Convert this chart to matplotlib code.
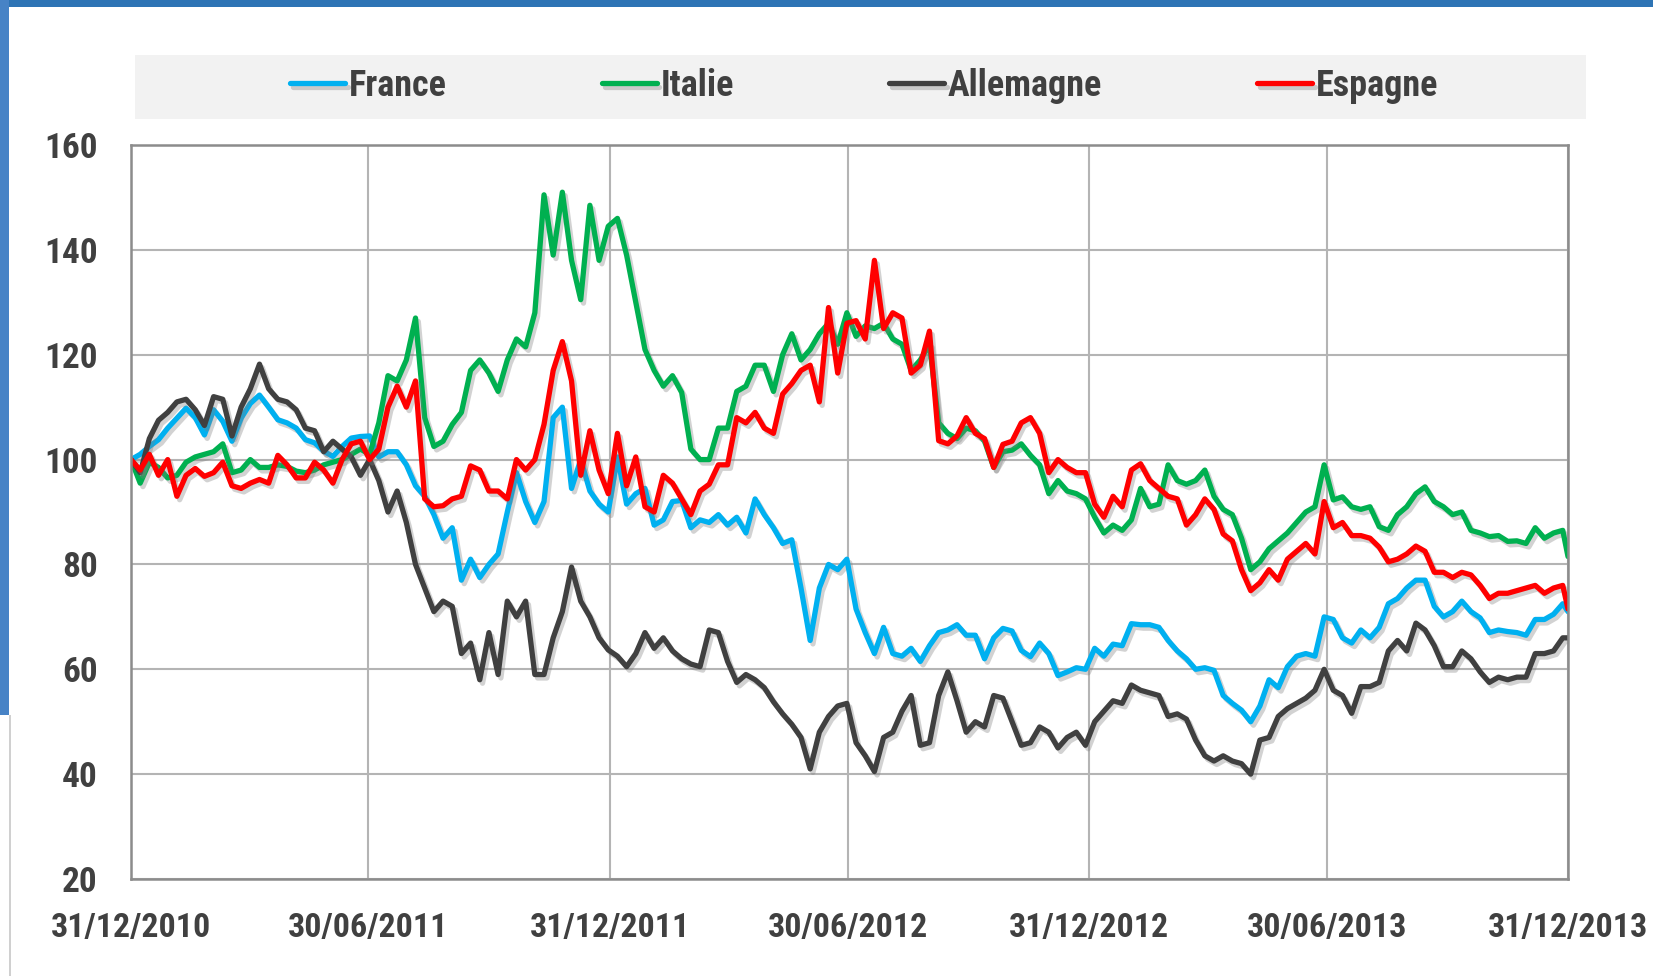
import pandas as pd
import numpy as np
import matplotlib.pyplot as plt
import matplotlib.dates as mdates
import matplotlib.patheffects as pe
from matplotlib import font_manager as fm
from matplotlib.patches import Rectangle

# the original uses a narrow bold face; take one if installed, else plain Liberation Sans
prefer = ["Liberation Sans Narrow", "Arial Narrow", "Roboto Condensed", "Open Sans Condensed"]
narrow = [f for f in fm.fontManager.ttflist
          if (f.stretch in ("condensed", "semi-condensed", "extra-condensed")
              or "Narrow" in f.name or "Condensed" in f.name) and f.weight in ("bold", 700)]
narrow.sort(key=lambda f: prefer.index(f.name) if f.name in prefer else len(prefer))
if narrow:
    plt.rcParams["font.family"] = [narrow[0].name, "DejaVu Sans"]
    plt.rcParams["font.stretch"] = narrow[0].stretch
    if narrow[0].name in prefer[:2]:
        xt_size, yt_size, leg_size, hl, cs = 26, 26, 24, 1.65, 4.6
    elif narrow[0].name in prefer:
        xt_size, yt_size, leg_size, hl, cs = 24.5, 25.5, 26, 1.52, 4.3
    else:
        xt_size, yt_size, leg_size, hl, cs = 21.5, 23, 21.5, 1.85, 5.1
else:
    plt.rcParams["font.family"] = ["Liberation Sans", "DejaVu Sans"]
    xt_size, yt_size, leg_size, hl, cs = 22, 22, 21, 1.85, 5.1

# weekly readings, 31/12/2010 -> 31/12/2013 (last point = 31/12/2013)
dates = list(pd.date_range("2010-12-31", periods=157, freq="7D")) + [pd.Timestamp("2013-12-31")]

france = [100, 101, 102.5, 103.8, 106, 107.9, 109.8, 108, 104.7, 109.5, 107.3, 103.5, 107.9, 110.7, 112.3, 110,
          107.6, 107, 106, 103.8, 103.2, 101.6, 100.6, 102.5, 104.1, 104.4,
          104.5, 100.5, 101.5, 101.5, 99, 95, 93, 89.5, 85, 87, 77, 81, 77.5, 80, 82, 90,
          97.5, 92, 88, 92, 108, 110, 94.5, 100, 94, 91.5,
          90, 100.5, 91.5, 93.5, 94.5, 87.5, 88.5, 92, 92.2, 87, 88.5, 88, 89.5, 87.5, 89, 86,
          92.5, 89.5, 87, 84, 84.7, 75.5, 65.5, 75.5, 80, 79,
          81, 71.5, 67, 63, 68, 63, 62.5, 64, 61.5, 64.5, 67, 67.5, 68.5, 66.5, 66.5, 62,
          66, 67.8, 67.3, 63.6, 62.4, 65, 63, 58.8, 59.5, 60.3, 60,
          64, 62.5, 64.8, 64.5, 68.7, 68.5, 68.5, 68, 65.5, 63.5, 62, 60, 60.3, 59.8, 55, 53.5,
          52.2, 50, 53, 58, 56.5, 60.5, 62.5, 63, 62.5, 70,
          69.5, 66, 65, 67.5, 66, 68, 72.5, 73.5, 75.5, 77, 77, 72, 70, 71, 73, 71,
          69.8, 67, 67.5, 67.2, 67, 66.5, 69.5, 69.5, 70.5, 72.5, 71]

italie = [100, 95.5, 99.5, 98.5, 96.5, 97, 99.5, 100.5, 101, 101.5, 103, 97.5, 98, 100, 98.5, 98.5,
          99, 98.7, 97.8, 97.5, 98, 99, 99.5, 100, 101, 102,
          101, 107, 116, 115, 119, 127, 108, 102.5, 103.5, 106.7, 109, 117, 119, 116.5, 113, 119,
          123, 121.5, 128, 150.5, 139, 151, 138, 130.5, 148.5, 138,
          144.5, 146, 139, 130, 121, 117, 114, 116, 112.8, 102, 100, 100, 106, 106, 113, 114,
          118, 118, 113, 120, 124, 119, 121, 124, 126, 122,
          128, 123.5, 125.5, 125, 126, 123, 122, 117, 119, 122, 107, 105, 104, 106, 105.5, 103.5,
          98.5, 101.5, 101.8, 103, 100.8, 99, 93.5, 96, 94, 93.5, 92.5,
          89, 86, 87.5, 86.5, 88.5, 94.5, 91, 91.5, 99, 96, 95.3, 96, 98, 93, 90.5, 89.5,
          85, 79, 80.5, 83, 84.5, 86, 88, 90, 91, 99,
          92.3, 92.9, 91, 90.5, 91, 87.2, 86.5, 89.5, 91, 93.5, 94.8, 92, 91, 89.5, 90, 86.5,
          86, 85.3, 85.5, 84.4, 84.5, 84, 87, 85, 86, 86.5, 81.5]

allemagne = [100, 97.5, 104, 107.5, 109, 111, 111.5, 109.5, 106.5, 112, 111.5, 104.5, 110, 113.5, 118.2, 113.5,
             111.5, 111, 109.5, 106, 105.5, 101.5, 103.5, 102, 100.5, 97,
             100, 96, 90, 94, 88, 80, 75.5, 71, 73, 72, 63, 65, 58, 67, 59, 73,
             70, 73, 59, 59, 66, 71, 79.5, 73, 70, 66,
             63.7, 62.5, 60.5, 63, 67, 64, 66, 63.5, 62, 61, 60.5, 67.5, 67, 61.5, 57.5, 59,
             58, 56.5, 53.8, 51.5, 49.5, 47, 41, 48, 51, 53,
             53.5, 46, 43.5, 40.5, 47, 48, 52, 55, 45.5, 46, 55, 59.5, 54, 48, 50, 49,
             55, 54.5, 50, 45.5, 46, 49, 48, 45, 47, 48, 45.5,
             50, 52, 54, 53.5, 57, 56, 55.5, 55, 51, 51.5, 50.5, 46.5, 43.5, 42.5, 43.5, 42.5,
             42, 40, 46.5, 47, 51, 52.5, 53.5, 54.5, 56, 60,
             56, 55, 51.6, 56.7, 56.7, 57.5, 63.5, 65.5, 63.5, 68.8, 67.5, 64.5, 60.5, 60.5, 63.5, 62,
             59.5, 57.5, 58.5, 58, 58.5, 58.5, 63, 63, 63.5, 66, 66]

espagne = [100, 98, 101, 97, 100, 93, 97, 98.3, 96.8, 97.5, 99.5, 95, 94.5, 95.5, 96.2, 95.5,
           100.8, 99, 96.5, 96.5, 99.5, 98, 95.5, 100, 103, 103.5,
           100, 102, 110, 114, 110, 115, 92.5, 91, 91.2, 92.5, 93, 98.8, 98, 94, 94, 92.5,
           100, 98, 100, 106.7, 117, 122.5, 115, 97, 105.5, 98,
           93.5, 105, 95, 100.5, 91, 90, 97, 95.5, 92.5, 89.5, 94, 95.3, 99, 99, 108, 107,
           109, 106, 105, 112.5, 114.5, 117, 118, 111, 129, 116.5,
           126, 126.5, 123, 138, 125, 128, 127, 116.5, 118, 124.5, 103.6, 103, 104.5, 108, 105, 104,
           98.5, 102.9, 103.5, 107, 108, 105, 97.5, 100, 98.5, 97.5, 97.5,
           91.5, 89, 93, 91, 98, 99.2, 96, 94.5, 93, 92.5, 87.5, 89.5, 92.5, 90.5, 85.8, 84.5,
           79, 75, 76.5, 79, 77, 81, 82.5, 84, 82, 92,
           87, 88, 85.5, 85.5, 85, 83.3, 80.5, 81, 82, 83.5, 82.5, 78.5, 78.5, 77.5, 78.5, 78,
           76, 73.5, 74.5, 74.5, 75, 75.5, 76, 74.5, 75.5, 76, 71.5]

series = {"France": (france, "#00B0F0"),
          "Italie": (italie, "#00B050"),
          "Allemagne": (allemagne, "#404040"),
          "Espagne": (espagne, "#FF0000")}

tick_dates = ["2010-12-31", "2011-06-30", "2011-12-31", "2012-06-30", "2012-12-31", "2013-06-30", "2013-12-31"]
y_ticks = [20, 40, 60, 80, 100, 120, 140, 160]

txt = "#404040"

fig = plt.figure(figsize=(16.53, 9.76), dpi=100)
fig.patch.set_facecolor("white")

# window frame (screenshot edge)
fig.patches.append(Rectangle((0, 1 - 7 / 976), 1, 7 / 976, transform=fig.transFigure,
                             facecolor="#2E74B5", edgecolor="none"))
fig.patches.append(Rectangle((0, 1 - 715 / 976), 9 / 1653, 715 / 976, transform=fig.transFigure,
                             facecolor="#4783C6", edgecolor="none"))
fig.patches.append(Rectangle((9 / 1653, 0), 1.5 / 1653, 1 - 715 / 976, transform=fig.transFigure,
                             facecolor="#D0D0D0", edgecolor="none"))
# legend band
fig.patches.append(Rectangle((135 / 1653, 1 - 119 / 976), (1586 - 135) / 1653, 64 / 976,
                             transform=fig.transFigure, facecolor="#F2F2F2", edgecolor="none"))

ax = fig.add_axes([131 / 1653, 1 - 879 / 976, (1568 - 131) / 1653, (879 - 145) / 976])

shadow = [pe.SimpleLineShadow(offset=(2, -2.5), shadow_color="#7F7F7F", alpha=0.35), pe.Normal()]
for name, (vals, col) in series.items():
    ax.plot(dates, vals, color=col, lw=3.8, label=name, path_effects=shadow,
            solid_joinstyle="round", solid_capstyle="round")

ax.set_xlim(pd.Timestamp(tick_dates[0]), pd.Timestamp(tick_dates[-1]))
ax.set_ylim(20, 160)
ax.set_xticks([pd.Timestamp(d) for d in tick_dates])
ax.xaxis.set_major_formatter(mdates.DateFormatter("%d/%m/%Y"))
ax.set_yticks(y_ticks)

ax.grid(True, color="#B4B4B4", lw=1.5)
ax.set_axisbelow(True)
for s in ax.spines.values():
    s.set_color("#8C8C8C")
    s.set_linewidth(1.8)

ax.tick_params(length=0, colors=txt)
ax.tick_params(axis="y", pad=24, labelsize=yt_size)
ax.tick_params(axis="x", pad=24, labelsize=xt_size)
for lab in ax.get_xticklabels() + ax.get_yticklabels():
    lab.set_fontweight("bold")

leg = fig.legend(loc="center", bbox_to_anchor=(864 / 1653, 1 - 86 / 976), ncol=4, frameon=False,
                 prop={"size": leg_size, "weight": "bold"}, labelcolor=txt,
                 handlelength=hl, handletextpad=0.1, columnspacing=cs)
for h in leg.legend_handles:
    h.set_linewidth(3.8)

fig.savefig("out.png", dpi=100)
